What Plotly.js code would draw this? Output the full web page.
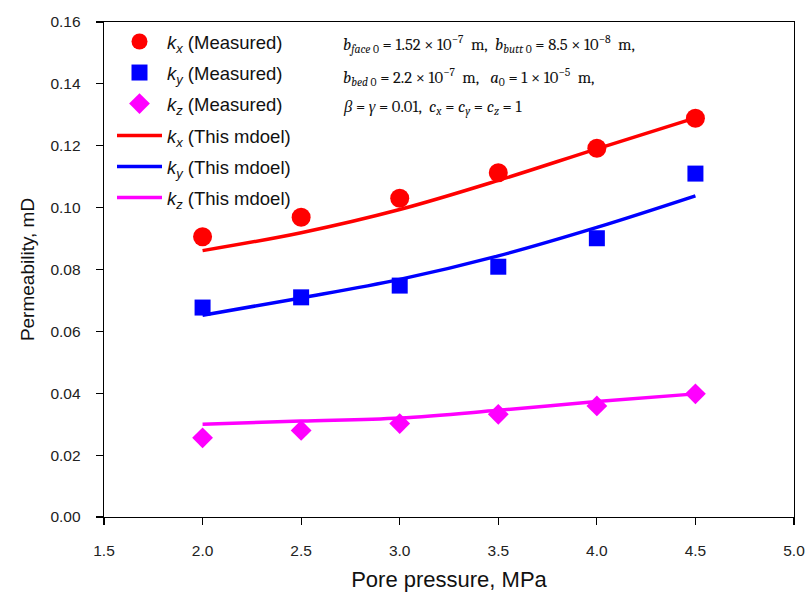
<!DOCTYPE html>
<html>
<head>
<meta charset="utf-8">
<script src="https://cdn.plot.ly/plotly-3.0.1.min.js"></script>
<style>
  html, body { margin: 0; padding: 0; background: #fff; }
  #chart { width: 806px; height: 597px; }
</style>
</head>
<body>
<div id="chart"></div>
<script>
// Pore pressure (MPa) at which permeability was measured
const pressure = [2.0, 2.5, 3.0, 3.5, 4.0, 4.5];

// Measured permeability (mD)
const kxMeasured = [0.0906, 0.0969, 0.1030, 0.1113, 0.1192, 0.1289];
const kyMeasured = [0.0677, 0.0710, 0.0748, 0.0809, 0.0901, 0.1110];
const kzMeasured = [0.0256, 0.0280, 0.0302, 0.0332, 0.0359, 0.0398];

// Model predictions (mD)
const kxModel = [0.0861, 0.0919, 0.0994, 0.1088, 0.1190, 0.1290];
const kyModel = [0.0652, 0.0708, 0.0768, 0.0844, 0.0936, 0.1038];
const kzModel = [0.0300, 0.0310, 0.0320, 0.0345, 0.0373, 0.0398];

const legendNames = [
  '<i>k</i><sub><i>x</i></sub> (Measured)',
  '<i>k</i><sub><i>y</i></sub> (Measured)',
  '<i>k</i><sub><i>z</i></sub> (Measured)',
  '<i>k</i><sub><i>x</i></sub> (This mdoel)',
  '<i>k</i><sub><i>y</i></sub> (This mdoel)',
  '<i>k</i><sub><i>z</i></sub> (This mdoel)'
];

const RED = '#ff0000', BLUE = '#0000ff', MAGENTA = '#ff00ff';

const traces = [
  { x: pressure, y: kxMeasured, mode: 'markers', name: legendNames[0], legend: 'legend',
    marker: { symbol: 'circle', size: 19, color: RED } },
  { x: pressure, y: kyMeasured, mode: 'markers', name: legendNames[1], legend: 'legend2',
    marker: { symbol: 'square', size: 16, color: BLUE } },
  { x: pressure, y: kzMeasured, mode: 'markers', name: legendNames[2], legend: 'legend3',
    marker: { symbol: 'diamond', size: 16, color: MAGENTA } },
  { x: pressure, y: kxModel, mode: 'lines', name: legendNames[3], legend: 'legend4',
    line: { color: RED, width: 3.5, shape: 'spline' } },
  { x: pressure, y: kyModel, mode: 'lines', name: legendNames[4], legend: 'legend5',
    line: { color: BLUE, width: 3.5, shape: 'spline' } },
  { x: pressure, y: kzModel, mode: 'lines', name: legendNames[5], legend: 'legend6',
    line: { color: MAGENTA, width: 3.5, shape: 'spline' } }
];

// Plot area in pixels, used to place the legend rows and notes
const PLOT = { left: 104, top: 22, width: 690, height: 495 };
const px2x = (px) => (px - PLOT.left) / PLOT.width;
const px2y = (py) => (PLOT.top + PLOT.height - py) / PLOT.height;

// One legend per entry so each row sits at its own height
const rowY = [42, 73, 104, 136, 167, 198];
function legendAt(py) {
  return {
    x: px2x(112), xref: 'paper', xanchor: 'left',
    y: px2y(py), yref: 'paper', yanchor: 'middle',
    bgcolor: 'rgba(0,0,0,0)', borderwidth: 0,
    font: { family: 'Arial, Liberation Sans, sans-serif', size: 18.5, color: '#111' },
    itemwidth: 45
  };
}

const serif = { family: 'Cambria, "Liberation Serif", "DejaVu Serif", serif', size: 16.6, color: '#111' };
const sp = '\u00a0';
const notes = [
  '<i>b</i><sub><i>face</i> 0</sub> = 1.52 × 10<sup>−7</sup>' + sp + sp + 'm,' + sp + sp +
    '<i>b</i><sub><i>butt</i> 0</sub> = 8.5 × 10<sup>−8</sup>' + sp + sp + 'm,',
  '<i>b</i><sub><i>bed</i> 0</sub> = 2.2 × 10<sup>−7</sup>' + sp + sp + 'm,' + sp + sp + sp +
    '<i>a</i><sub>0</sub> = 1 × 10<sup>−5</sup>' + sp + sp + 'm,',
  '<i>β</i> = <i>γ</i> = 0.01,' + sp + sp + '<i>c</i><sub><i>x</i></sub> = <i>c</i><sub><i>y</i></sub> = <i>c</i><sub><i>z</i></sub> = 1'
];
const noteY = [45, 77, 107];

const axisFont = { family: 'Arial, Liberation Sans, sans-serif', size: 15.5, color: '#222' };

const layout = {
  width: 806, height: 597,
  margin: { l: PLOT.left, r: 806 - PLOT.left - PLOT.width, t: PLOT.top, b: 597 - PLOT.top - PLOT.height },
  paper_bgcolor: '#fff', plot_bgcolor: '#fff',
  showlegend: true,
  xaxis: {
    range: [1.5, 5.0], dtick: 0.5, tick0: 1.5, tickformat: '.1f',
    showgrid: false, zeroline: false,
    showline: true, linecolor: '#000', linewidth: 1.3, mirror: true,
    ticks: 'outside', ticklen: 7, tickwidth: 1.2, tickcolor: '#000',
    ticklabelstandoff: 12,
    tickfont: axisFont,
    title: { text: 'Pore pressure, MPa', standoff: 13,
             font: { family: 'Arial, Liberation Sans, sans-serif', size: 22, color: '#111' } }
  },
  yaxis: {
    range: [0, 0.16], dtick: 0.02, tickformat: '.2f',
    showgrid: false, zeroline: false,
    showline: true, linecolor: '#000', linewidth: 1.3, mirror: true,
    ticks: 'outside', ticklen: 7, tickwidth: 1.2, tickcolor: '#000',
    ticklabelstandoff: 12,
    tickfont: axisFont,
    title: { text: 'Permeability, mD', standoff: 10,
             font: { family: 'Arial, Liberation Sans, sans-serif', size: 19, color: '#111' } }
  },
  annotations: notes.map((t, i) => ({
    text: t, xref: 'paper', yref: 'paper', x: px2x(341), y: px2y(noteY[i]),
    xanchor: 'left', yanchor: 'middle', showarrow: false, align: 'left', font: serif
  }))
};

['legend', 'legend2', 'legend3', 'legend4', 'legend5', 'legend6'].forEach((k, i) => {
  layout[k] = legendAt(rowY[i]);
});

Plotly.newPlot('chart', traces, layout, { displayModeBar: false, staticPlot: true });
</script>
</body>
</html>
